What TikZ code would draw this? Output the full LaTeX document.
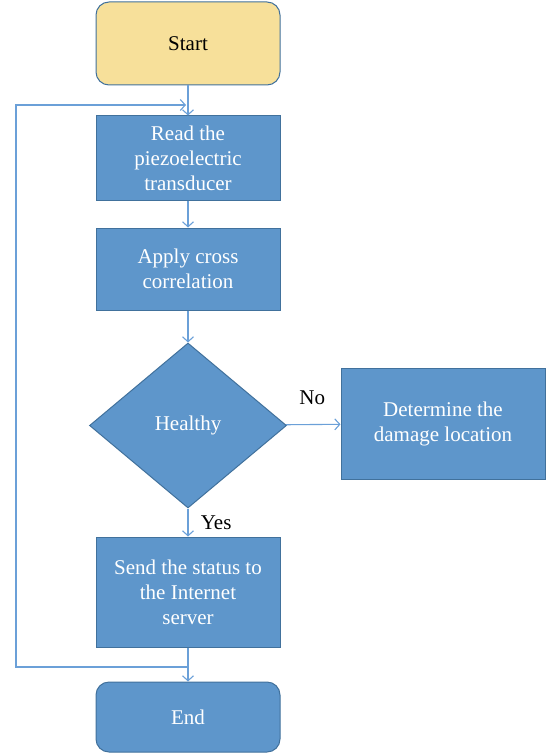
\documentclass[tikz,border=0pt]{standalone}
\usepackage{fontspec}
\setmainfont{Liberation Serif}
\usetikzlibrary{shapes.geometric,arrows.meta}
\definecolor{boxfill}{RGB}{94,150,203}
\definecolor{boxline}{RGB}{65,113,156}
\definecolor{startfill}{RGB}{247,224,154}
\definecolor{conncol}{RGB}{107,160,216}
\begin{document}
\begin{tikzpicture}[x=1pt,y=-1pt,
  every node/.style={font=\fontsize{21}{25}\selectfont},
  procbox/.style={draw=boxline,line width=1pt,fill=boxfill,text=white,align=center,inner sep=2pt,minimum width=184pt},
  termbox/.style={procbox,rounded corners=13pt},
  decbox/.style={diamond,draw=boxline,line width=1pt,fill=boxfill,text=white,inner sep=0pt,minimum width=197pt,minimum height=165pt,aspect=1.19},
  conn/.style={draw=conncol,line width=1.1pt,-{Straight Barb[length=5pt,width=11pt]}},
  lbl/.style={text=black}]
\useasboundingbox (0,0) rectangle (548,754);
\node[termbox,fill=startfill,text=black,minimum height=83pt] (start) at (188,43.5) {Start};
\node[procbox,minimum height=84pt] (read) at (188,158) {Read the\\piezoelectric\\transducer};
\node[procbox,minimum height=82pt] (apply) at (188,269) {Apply cross\\correlation};
\node[decbox] (dec) at (188,425.5) {Healthy};
\node[procbox,minimum width=204pt,minimum height=111pt] (det) at (443,423.5) {Determine the\\damage location};
\node[procbox,minimum height=110pt] (send) at (188,592) {Send the status to\\the Internet\\server};
\node[termbox,minimum height=70pt] (end) at (188,717) {End};
\coordinate (lb) at (188,667);
\coordinate (lc) at (16,667);
\coordinate (ld) at (16,105);
\coordinate (lt) at (186,105);
\draw[conn] (start) -- (read);
\draw[conn] (read) -- (apply);
\draw[conn] (apply) -- (dec);
\draw[conn] (dec) -- (send) node[lbl,pos=0.5,right=9pt] {Yes};
\draw[conn] (dec) -- (det) node[lbl,pos=0.48,above=16pt] {No};
\draw[conn] (send) -- (end);
\draw[conn] (lb) -- (lc) -- (ld) -- (lt);
\end{tikzpicture}
\end{document}
